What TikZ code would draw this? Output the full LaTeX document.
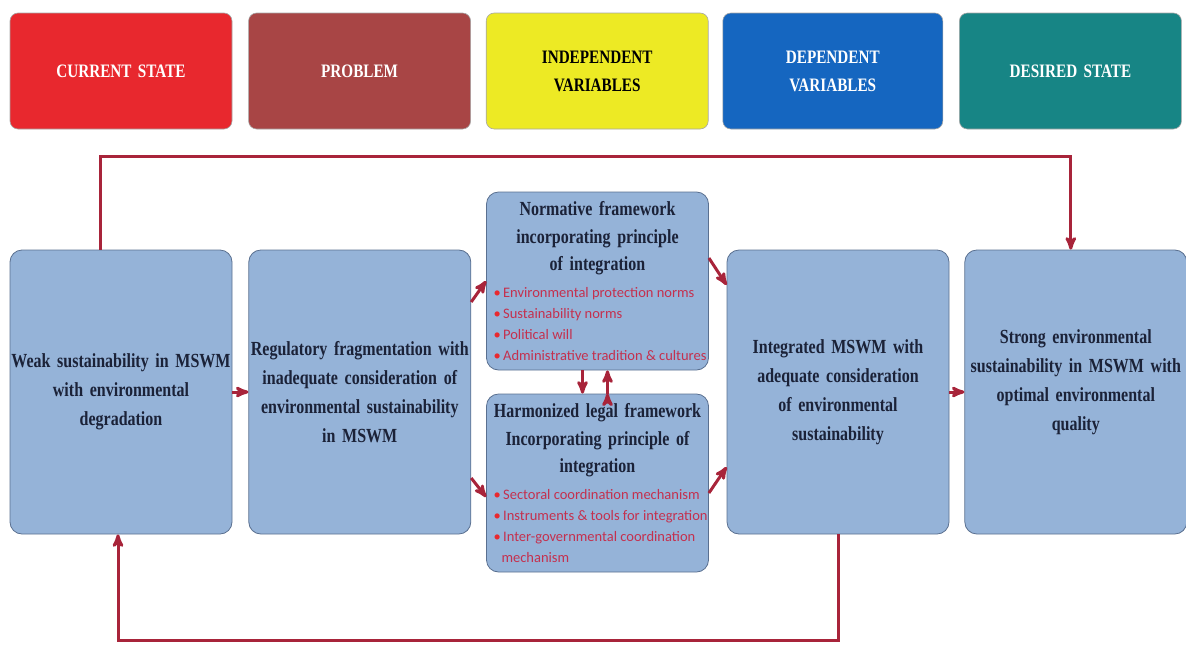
\documentclass[tikz,border=0pt]{standalone}
\usepackage{fontspec}
\setmainfont{Liberation Serif}[FakeStretch=0.8]
\newfontfamily\bulfont{Carlito}
\usetikzlibrary{arrows,positioning}

\definecolor{curred}{HTML}{E8282E}
\definecolor{probred}{HTML}{A84545}
\definecolor{indyel}{HTML}{EDEA24}
\definecolor{depblue}{HTML}{1566C0}
\definecolor{destea}{HTML}{178585}
\definecolor{boxblue}{HTML}{95B3D8}
\definecolor{boxline}{HTML}{5A7090}
\definecolor{linkred}{HTML}{A8243A}
\definecolor{inktext}{HTML}{1B2238}
\definecolor{bultext}{HTML}{C4304E}

\newcommand{\bulstart}{\bulfont\mdseries\fontsize{14.5}{21}\selectfont
  \spaceskip=0pt \xspaceskip=0pt \color{bultext}}
\newcommand{\bul}[1]{\makebox[208pt][l]{\textcolor{curred}{\textbullet}\,#1}}

\begin{document}
\begin{tikzpicture}[x=1pt,y=-1pt,->,>=stealth',node distance=15pt]
  \tikzstyle{head}=[draw=black!35,line width=0.6pt,rounded corners=8pt,
    minimum width=222pt,minimum height=116pt,text width=212pt,align=center,
    inner sep=2pt,font=\fontsize{19}{28}\selectfont\bfseries]
  \tikzstyle{block}=[draw=boxline,fill=boxblue,line width=0.8pt,
    rounded corners=12pt,minimum width=222pt,minimum height=284pt,
    text width=220pt,inner sep=1pt,align=center,text=inktext,
    font=\fontsize{20}{29}\selectfont\bfseries]
  \tikzstyle{midblock}=[block,minimum height=178pt,
    font=\fontsize{20}{27.5}\selectfont\bfseries]
  \tikzstyle{link}=[draw=linkred,line width=3pt]

  \useasboundingbox (0,0) rectangle (1186,646);

  % header row
  \node[head,fill=curred,text=white]               (cs) at (121,71) {CURRENT STATE};
  \node[head,fill=probred,text=white,right=16pt of cs] (pb)  {PROBLEM};
  \node[head,fill=indyel,text=black,right=of pb]    (iv)  {INDEPENDENT\\VARIABLES};
  \node[head,fill=depblue,text=white,right=14pt of iv,minimum width=220pt] (dv) {DEPENDENT\\VARIABLES};
  \node[head,fill=destea,text=white,right=16pt of dv] (ds) {DESIRED STATE};

  % main row
  \node[block]                  (w) at (121,392) {Weak sustainability in MSWM\\with environmental\\degradation};
  \node[block,right=16pt of w]  (r)   {Regulatory fragmentation with\\inadequate consideration of\\environmental sustainability\\in MSWM};
  \node[midblock]               (nrm) at (597.5,281) {Normative framework\\incorporating principle\\of integration\\[5.5pt]
    \bulstart
    \bul{Environmental protection norms}\\\bul{Sustainability norms}\\
    \bul{Political will}\\\bul{Administrative tradition \& cultures}\par};
  \node[midblock]               (hrm) at (597.5,483) {Harmonized legal framework\\Incorporating principle of\\integration\\[5.5pt]
    \bulstart
    \bul{Sectoral coordination mechanism}\\\bul{Instruments \& tools for integration}\\
    \bul{Inter-governmental coordination}\\\makebox[208pt][l]{\hspace{8pt}mechanism}\par};
  \node[block,minimum width=220pt] (i) at (838,392) {Integrated MSWM with\\adequate consideration\\of environmental\\sustainability};
  \node[block,right=15pt of i,minimum width=220pt] (s) {Strong environmental\\sustainability in MSWM with\\optimal environmental\\quality\par\vspace{20pt}};

  % connectors
  \coordinate (loopT) at (600,156);
  \coordinate (loopB) at (500,640);

  \path[link] (w) edge (r)
              ([yshift=90pt]r.east) edge (nrm.west)
              ([yshift=-86pt]r.east) edge ([yshift=-14pt]hrm.west)
              ([yshift=23pt]nrm.east) edge ([yshift=107pt]i.west)
              ([yshift=-10pt]hrm.east) edge ([yshift=-75pt]i.west)
              ([xshift=-15pt]nrm.south) edge ([xshift=-15pt]hrm.north)
              ([xshift=10pt]hrm.north) edge ([xshift=10pt]nrm.south)
              (i) edge (s);
  \draw[link] ([xshift=-21pt]w.north) |- (loopT) -| ([xshift=-5pt]s.north);
  \draw[link] (i.south) |- (loopB) -| ([xshift=-3pt]w.south);
\end{tikzpicture}
\end{document}
